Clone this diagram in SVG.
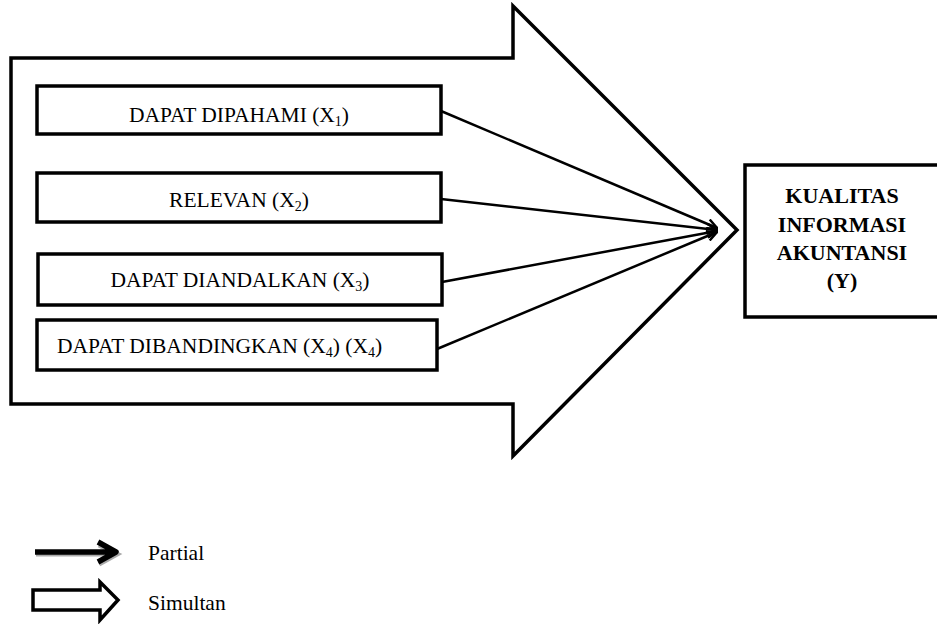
<svg xmlns="http://www.w3.org/2000/svg" width="937" height="624" viewBox="0 0 937 624">
<defs>
<style>
.box{fill:#fff;stroke:#000;stroke-width:3.5}
.lbl{font-family:'Liberation Serif',serif;font-size:21.5px;fill:#000}
.blbl{font-family:'Liberation Serif',serif;font-size:22px;font-weight:bold;fill:#000}
.conn{stroke:#000;stroke-width:2.5;fill:none}
</style>
<marker id="ah" viewBox="0 0 12 12" refX="11" refY="6" markerWidth="12" markerHeight="12" markerUnits="userSpaceOnUse" orient="auto">
<path d="M1,1 L11,6 L1,11" fill="none" stroke="#000" stroke-width="2.5"/>
</marker>
</defs>
<rect width="937" height="624" fill="#fff"/>
<g id="big-arrow">
<path d="M11,58 L513,58 L513,6 L737,230 L513,456 L513,404 L11,404 Z" fill="none" stroke="#000" stroke-width="3.5" stroke-linejoin="miter"/>
</g>
<g font-family="Liberation Serif, serif">
<g id="x1">
<rect class="box" x="37" y="86" width="404" height="48"/>
<text class="lbl" x="239" y="122" text-anchor="middle">DAPAT DIPAHAMI (X<tspan font-size="14" dy="4">1</tspan><tspan dy="-4">)</tspan></text>
</g>
<g id="x2">
<rect class="box" x="37" y="173" width="404" height="49"/>
<text class="lbl" x="239" y="207" text-anchor="middle">RELEVAN (X<tspan font-size="14" dy="4">2</tspan><tspan dy="-4">)</tspan></text>
</g>
<g id="x3">
<rect class="box" x="38" y="254" width="404" height="51"/>
<text class="lbl" x="240" y="287" text-anchor="middle">DAPAT DIANDALKAN (X<tspan font-size="14" dy="4">3</tspan><tspan dy="-4">)</tspan></text>
</g>
<g id="x4">
<rect class="box" x="37" y="320" width="400" height="50"/>
<text class="lbl" x="57" y="353">DAPAT DIBANDINGKAN (X<tspan font-size="14" dy="4">4</tspan><tspan dy="-4">)  (X</tspan><tspan font-size="14" dy="4">4</tspan><tspan dy="-4">)</tspan></text>
</g>
<g id="y">
<rect class="box" x="745" y="165" width="200" height="152"/>
<text class="blbl" x="842" y="203" text-anchor="middle">KUALITAS</text>
<text class="blbl" x="842" y="232" text-anchor="middle">INFORMASI</text>
<text class="blbl" x="842" y="260" text-anchor="middle">AKUNTANSI</text>
<text class="blbl" x="842" y="288" text-anchor="middle">(Y)</text>
</g>
</g>
<g id="connectors">
<line class="conn" x1="441" y1="111" x2="717" y2="228" marker-end="url(#ah)"/>
<line class="conn" x1="441" y1="199" x2="717" y2="230" marker-end="url(#ah)"/>
<line class="conn" x1="442" y1="282" x2="717" y2="231" marker-end="url(#ah)"/>
<line class="conn" x1="437" y1="349" x2="717" y2="232" marker-end="url(#ah)"/>
</g>
<g id="legend" font-family="Liberation Serif, serif">
<path d="M36,554 L114,554 M99,545 L117,554 L99,564" fill="none" stroke="#aaa" stroke-width="5"/>
<path d="M35,552 L112,552 M98,542 L116,552 L98,562" fill="none" stroke="#000" stroke-width="5.5" stroke-linejoin="round"/>
<text class="lbl" x="148" y="560">Partial</text>
<path d="M33,590 L100,590 L100,582 L118,600 L100,620 L100,610 L33,610 Z" fill="#fff" stroke="#000" stroke-width="3.5"/>
<text class="lbl" x="148" y="610">Simultan</text>
</g>
</svg>
